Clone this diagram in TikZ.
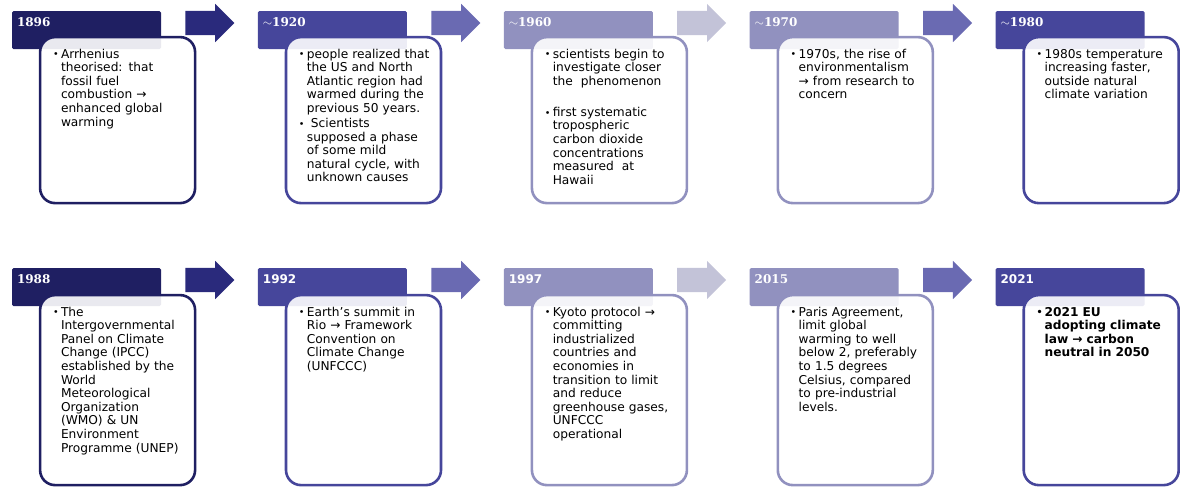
\documentclass[tikz,border=0pt]{standalone}
\usepackage{fontspec}
\setmainfont{DejaVu Sans}
\newfontfamily\yearserif{DejaVu Serif}
\usetikzlibrary{positioning, shapes.arrows}

\definecolor{navy}{RGB}{31,31,98}
\definecolor{navyarrow}{RGB}{42,42,124}
\definecolor{indigo}{RGB}{70,70,155}
\definecolor{midarrow}{RGB}{106,106,178}
\definecolor{lavender}{RGB}{145,145,191}
\definecolor{palearrow}{RGB}{195,195,216}

\newcommand{\bodyfont}{\fontsize{12.2}{13.6}\selectfont}
\newcommand{\bitem}{\hangindent=8pt\hangafter=1\noindent\strut\makebox[8pt][l]{\raisebox{0.3pt}{\fontsize{9.5}{9.5}\selectfont\textbullet}}}

\begin{document}
\begin{tikzpicture}[
  x=1pt, y=-1pt,
  node distance=96.5pt, % gap between year tabs
  hdr/.style={rectangle, rounded corners=1.5pt, minimum width=149pt, minimum height=38pt, inner sep=0pt, text width=139pt, align=left, text height=8.5pt, text depth=15.5pt, text=white},
  serifyear/.style={hdr, font=\yearserif\bfseries\fontsize{12}{12}\selectfont},
  sansyear/.style={hdr, font=\bfseries\fontsize{12}{12}\selectfont},
  card/.style={rectangle, rounded corners=15pt, line width=2.6pt, fill=white, fill opacity=0.9, minimum width=155pt, anchor=north west},
  topcard/.style={card, minimum height=166pt},
  lowcard/.style={card, minimum height=190pt},
  body/.style={anchor=north west, text width=150pt, align=left, inner sep=0pt, font=\bodyfont},
  blockarrow/.style={single arrow, single arrow head extend=7pt, single arrow head indent=0pt, inner xsep=0pt, inner ysep=12pt, minimum height=49pt, right=24pt of #1, yshift=7pt}
]
\useasboundingbox (0,0) rectangle (1180,491);

% Top row: year tabs
\node[serifyear, fill=navy] (h1) at (86.5,30) {1896};
\node[serifyear, fill=indigo, right=of h1] (h2) {$\sim$1920};
\node[serifyear, fill=lavender, right=of h2] (h3) {$\sim$1960};
\node[serifyear, fill=lavender, right=of h3] (h4) {$\sim$1970};
\node[serifyear, fill=indigo, right=of h4] (h5) {$\sim$1980};

% Top row: arrows
\node[blockarrow=h1, fill=navyarrow] (a1) {};
\node[blockarrow=h2, fill=midarrow] (a2) {};
\node[blockarrow=h3, fill=palearrow] (a3) {};
\node[blockarrow=h4, fill=midarrow] (a4) {};

% Top row: cards
\node[topcard, draw=navy] (b1) at ([xshift=27pt,yshift=-25pt]h1.north west) {};
\node[topcard, draw=indigo] (b2) at ([xshift=27pt,yshift=-25pt]h2.north west) {};
\node[topcard, draw=lavender] (b3) at ([xshift=27pt,yshift=-25pt]h3.north west) {};
\node[topcard, draw=lavender] (b4) at ([xshift=27pt,yshift=-25pt]h4.north west) {};
\node[topcard, draw=indigo] (b5) at ([xshift=27pt,yshift=-25pt]h5.north west) {};

\node[body] (t1) at ([xshift=14pt,yshift=-12.5pt]b1.north west) {\bitem Arrhenius\newline theorised: that\newline fossil fuel\newline combustion →\newline enhanced global\newline warming\par};
\node[body] (t2) at ([xshift=14pt,yshift=-12.5pt]b2.north west) {\bitem people realized that\newline the US and North\newline Atlantic region had\newline warmed during the\newline previous 50 years.\par\vspace{1.5pt}\bitem\ Scientists\newline supposed a phase\newline of some mild\newline natural cycle, with\newline unknown causes\par};
\node[body] (t3) at ([xshift=14pt,yshift=-12.5pt]b3.north west) {\bitem scientists begin to\newline investigate closer\newline the\ \ phenomenon\par\vspace{17.5pt}\bitem first systematic\newline tropospheric\newline carbon dioxide\newline concentrations\newline measured\ \ at\newline Hawaii\par};
\node[body] (t4) at ([xshift=14pt,yshift=-12.5pt]b4.north west) {\bitem 1970s, the rise of\newline environmentalism\newline → from research to\newline concern\par};
\node[body] (t5) at ([xshift=14pt,yshift=-12.5pt]b5.north west) {\bitem 1980s temperature\newline increasing faster,\newline outside natural\newline climate variation\par};

% Bottom row: year tabs
\node[serifyear, fill=navy] (h6) at (86.5,287) {1988};
\node[sansyear, fill=indigo, right=of h6] (h7) {1992};
\node[sansyear, fill=lavender, right=of h7] (h8) {1997};
\node[serifyear, fill=lavender, right=of h8] (h9) {2015};
\node[sansyear, fill=indigo, right=of h9] (h10) {2021};

% Bottom row: arrows
\node[blockarrow=h6, fill=navyarrow] (a6) {};
\node[blockarrow=h7, fill=midarrow] (a7) {};
\node[blockarrow=h8, fill=palearrow] (a8) {};
\node[blockarrow=h9, fill=midarrow] (a9) {};

% Bottom row: cards
\node[lowcard, draw=navy] (b6) at ([xshift=27pt,yshift=-26pt]h6.north west) {};
\node[lowcard, draw=indigo] (b7) at ([xshift=27pt,yshift=-26pt]h7.north west) {};
\node[lowcard, draw=lavender] (b8) at ([xshift=27pt,yshift=-26pt]h8.north west) {};
\node[lowcard, draw=lavender] (b9) at ([xshift=27pt,yshift=-26pt]h9.north west) {};
\node[lowcard, draw=indigo] (b10) at ([xshift=27pt,yshift=-26pt]h10.north west) {};

\node[body] (t6) at ([xshift=14pt,yshift=-12.5pt]b6.north west) {\bitem The\newline Intergovernmental\newline Panel on Climate\newline Change (IPCC)\newline established by the\newline World\newline Meteorological\newline Organization\newline (WMO) \& UN\newline Environment\newline Programme (UNEP)\par};
\node[body] (t7) at ([xshift=14pt,yshift=-12.5pt]b7.north west) {\bitem Earth’s summit in\newline Rio → Framework\newline Convention on\newline Climate Change\newline (UNFCCC)\par};
\node[body] (t8) at ([xshift=14pt,yshift=-12.5pt]b8.north west) {\bitem Kyoto protocol →\newline committing\newline industrialized\newline countries and\newline economies in\newline transition to limit\newline and reduce\newline greenhouse gases,\newline UNFCCC\newline operational\par};
\node[body] (t9) at ([xshift=14pt,yshift=-12.5pt]b9.north west) {\bitem Paris Agreement,\newline limit global\newline warming to well\newline below 2, preferably\newline to 1.5 degrees\newline Celsius, compared\newline to pre-industrial\newline levels.\par};
\node[body, font=\bodyfont\bfseries] (t10) at ([xshift=14pt,yshift=-12.5pt]b10.north west) {\bitem 2021 EU\newline adopting climate\newline law → carbon\newline neutral in 2050\par};

\end{tikzpicture}
\end{document}
